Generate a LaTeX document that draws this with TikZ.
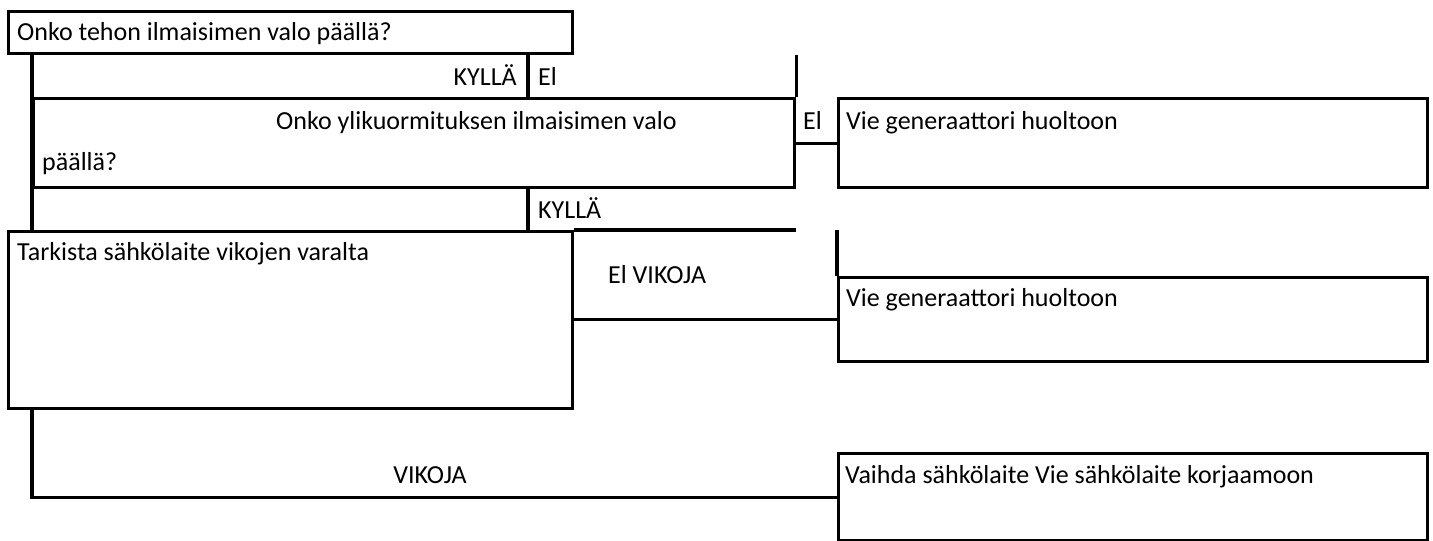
\documentclass[tikz,border=0pt]{standalone}
\usepackage{fontspec}
\setmainfont{Carlito}
\begin{document}
\begin{tikzpicture}[x=1pt,y=-1pt,
  box/.style={draw, line width=3.2pt, rectangle, inner sep=0pt, anchor=north west},
  ln/.style={line width=3.2pt},
  txt/.style={anchor=base west, inner sep=0pt, font=\fontsize{26}{31}\selectfont},
  txte/.style={txt, anchor=base east},
  txtc/.style={txt, anchor=base},
]
\useasboundingbox (0,0) rectangle (1433,541);
% boxes
\node[box, minimum width=564pt, minimum height=42pt] (qA) at (7,10) {};
\node[box, minimum width=761pt, minimum height=89pt] (qB) at (32,97) {};
\node[box, minimum width=589pt, minimum height=89pt] (qC) at (837,97) {};
\node[box, minimum width=564pt, minimum height=177pt] (qD) at (7,230) {};
\node[box, minimum width=589pt, minimum height=84pt] (qE) at (837,276) {};
\node[box, minimum width=589pt, minimum height=87pt] (qF) at (837,452) {};
\coordinate (d1) at (528,52);
% connectors
\draw[ln] (qA.south -| qB.west) -- (qD.north -| qB.west);
\draw[ln] (qB.north east) -- (qB.north east |- qA.south);
\draw[ln] (d1) -- (d1 |- qB.north);
\draw[ln] (qB.east) -- (qC.west);
\draw[ln] (d1 |- qB.south) -- (d1 |- qD.north);
\draw[ln] (qD.north east) -- (qB.south east |- qD.north);
\draw[ln] (qE.north west) -- (qE.west |- qD.north);
\draw[ln] (qD.east |- qE.west) -- (qE.west);
\draw[ln] (qD.south -| qB.west) |- (qF.west);
% texts
\node[txt] (tA) at (17,40) {Onko tehon ilmaisimen valo päällä?};
\node[txte] (ky1) at (517,85) {KYLLÄ};
\node[txt] (ei1) at (538,85) {El};
\node[txt] (tB1) at (276,129) {Onko ylikuormituksen ilmaisimen valo};
\node[txt] (tB2) at (42,170) {päällä?};
\node[txt] (ei2) at (803,129) {El};
\node[txt] (tC) at (846,129) {Vie generaattori huoltoon};
\node[txt] (ky2) at (538,218) {KYLLÄ};
\node[txt] (tD) at (17,260) {Tarkista sähkölaite vikojen varalta};
\node[txt] (eiv) at (608,283) {El VIKOJA};
\node[txt] (tE) at (846,306) {Vie generaattori huoltoon};
\node[txtc] (vik) at (430,483) {VIKOJA};
\node[txt] (tF) at (845,483) {Vaihda sähkölaite Vie sähkölaite korjaamoon};
\end{tikzpicture}
\end{document}
